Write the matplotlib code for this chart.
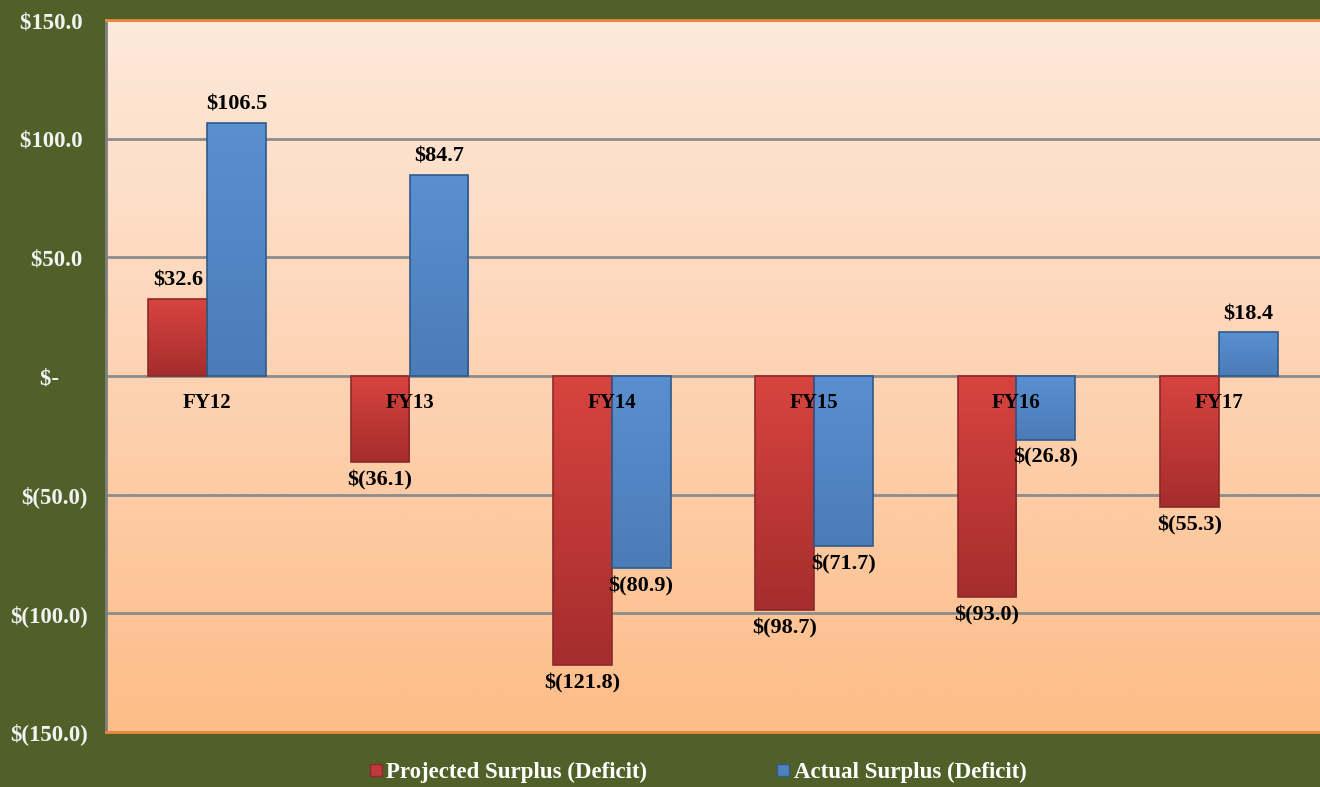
import numpy as np
import matplotlib
matplotlib.use("Agg")
import matplotlib.pyplot as plt
from matplotlib.colors import LinearSegmentedColormap
from matplotlib.lines import Line2D

categories = ["FY12", "FY13", "FY14", "FY15", "FY16", "FY17"]
projected = [32.6, -36.1, -121.8, -98.7, -93.0, -55.3]
actual = [106.5, 84.7, -80.9, -71.7, -26.8, 18.4]
yticks = [150, 100, 50, 0, -50, -100, -150]
ytick_labels = ["$150.0 ", "$100.0 ", "$50.0 ", "$-     ", "$(50.0)", "$(100.0)", "$(150.0)"]
series_names = ["Projected Surplus (Deficit)", "Actual Surplus (Deficit)"]

plt.rcParams['font.family'] = ['Liberation Serif', 'DejaVu Serif']
plt.rcParams['font.weight'] = 'bold'

green = "#4f6128"
fig = plt.figure(figsize=(13.2, 7.87), dpi=100, facecolor=green)
ax = fig.add_axes([106 / 1320, 55 / 787, 1214 / 1320, 712 / 787])
ax.set_xlim(-0.5, 5.5)
ax.set_ylim(-150, 150)

# gradient plot area
bg = LinearSegmentedColormap.from_list("bg", ["#fdbd88", "#fdd3b3", "#fee9da"])
grad = np.linspace(0, 1, 256).reshape(-1, 1)
ax.imshow(grad, cmap=bg, aspect="auto", extent=(-0.5, 5.5, -150, 150),
          origin="lower", zorder=0)

for y in yticks:
    ax.axhline(y, color="#8c8c8c", lw=2, zorder=1)

def shade_bars(bars, c_top, c_bot):
    cm = LinearSegmentedColormap.from_list("b", [c_bot, c_top])
    for b in bars:
        x0, y0 = b.get_x(), b.get_y()
        w, h = b.get_width(), b.get_height()
        lo, hi = min(y0, y0 + h), max(y0, y0 + h)
        im = ax.imshow(grad, cmap=cm, aspect="auto", extent=(x0, x0 + w, lo, hi),
                       origin="lower", zorder=2.5)
        im.set_clip_path(b)

x = np.arange(len(categories))
w = 0.29
rb = ax.bar(x - w / 2, projected, w, color="#c0393b", edgecolor="#8b2a2a",
            lw=1.2, zorder=2)
bb = ax.bar(x + w / 2, actual, w, color="#4f81bd", edgecolor="#2f5a8a",
            lw=1.2, zorder=2)
shade_bars(rb, "#d8443f", "#a52d2d")
shade_bars(bb, "#5a8fd0", "#4b7cb8")
for b in list(rb) + list(bb):
    b.set_facecolor("none")
    b.set_zorder(3)

def money(v):
    return f"${v:.1f}" if v >= 0 else f"$({-v:.1f})"

for i in range(len(categories)):
    for xpos, v in ((x[i] - w / 2, projected[i]), (x[i] + w / 2, actual[i])):
        if v >= 0:
            ax.text(xpos, v + 3.5, money(v), ha="center", va="bottom",
                    fontsize=16, fontweight="bold", zorder=5)
        else:
            ax.text(xpos, v - 3.5, money(v), ha="center", va="top",
                    fontsize=16, fontweight="bold", zorder=5)
    ax.text(x[i], -7, categories[i], ha="center", va="top", fontsize=15,
            fontweight="bold", zorder=5)

ax.set_yticks(yticks)
ax.set_yticklabels(ytick_labels, color="#f2f2f2", fontsize=16.5, fontweight="bold")
ax.tick_params(axis="y", length=0, pad=13)
ax.set_xticks([])
for s in ("top", "right"):
    ax.spines[s].set_visible(False)
ax.spines["left"].set_color("#808080")
ax.spines["left"].set_linewidth(2)
ax.spines["bottom"].set_color("#f08a3a")
ax.spines["bottom"].set_linewidth(2)
ax.plot([-0.5, 5.5], [150, 150], color="#f08a3a", lw=2, clip_on=False, zorder=4)

handles = [Line2D([], [], marker="s", ls="", markersize=8, markerfacecolor="#c0393b",
                  markeredgecolor="#8b2a2a"),
           Line2D([], [], marker="s", ls="", markersize=8, markerfacecolor="#4f81bd",
                  markeredgecolor="#2f5a8a")]
leg = fig.legend(handles, series_names, loc="center", bbox_to_anchor=(0.528, 0.018),
                 ncol=2, frameon=False, fontsize=16.5, handletextpad=0.1,
                 columnspacing=5.6, handlelength=0.7)
for t in leg.get_texts():
    t.set_color("white")
    t.set_fontweight("bold")

fig.savefig("out.png", dpi=100, facecolor=green)
